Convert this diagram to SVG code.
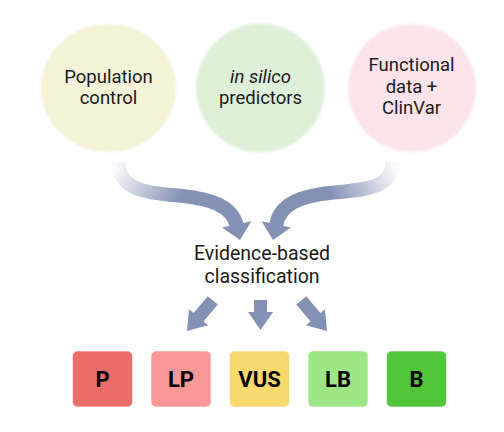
<svg xmlns="http://www.w3.org/2000/svg" width="504" height="432" viewBox="0 0 504 432">
<defs>
<style>
.t{font-family:Roboto,"Liberation Sans",sans-serif;font-size:18.5px;fill:#1a1a1a;text-anchor:middle}
.e{font-size:19.5px}
.b{font-family:Roboto,"Liberation Sans",sans-serif;font-size:22px;font-weight:bold;fill:#000;text-anchor:middle}
.arr{fill:#8391B5}
.box{stroke:#ffffff;stroke-opacity:0.6;stroke-width:1}
</style>
<linearGradient id="gl" gradientUnits="userSpaceOnUse" x1="116" y1="165" x2="182" y2="196">
<stop offset="0" stop-color="#8391B5" stop-opacity="0.04"/>
<stop offset="1" stop-color="#8391B5" stop-opacity="1"/>
</linearGradient>
<linearGradient id="gr" gradientUnits="userSpaceOnUse" x1="394" y1="165" x2="330" y2="194">
<stop offset="0" stop-color="#8391B5" stop-opacity="0.04"/>
<stop offset="1" stop-color="#8391B5" stop-opacity="1"/>
</linearGradient>
<path id="head" d="M-15,-16 L15,-16 L0,0 Z"/>
<path id="shortArr" d="M-6.5,-30 L6.5,-30 L6.5,-18 L12.5,-18 L0,0 L-12.5,-18 L-6.5,-18 Z"/>
<path id="longArr" d="M-6.5,-40 L6.5,-40 L6.5,-18 L12.5,-18 L0,0 L-12.5,-18 L-6.5,-18 Z"/>
<filter id="soft" x="-10%" y="-10%" width="120%" height="120%"><feGaussianBlur stdDeviation="0.8"/></filter>
</defs>
<rect width="504" height="432" fill="#ffffff"/>

<g id="node-population">
<ellipse cx="108.5" cy="88" rx="67.5" ry="64" fill="#F5F2D8" filter="url(#soft)"/>
<text class="t" x="108.5" y="83">Population</text>
<text class="t" x="108.5" y="104">control</text>
</g>
<g id="node-insilico">
<circle cx="260.5" cy="88" r="64.5" fill="#DFF0D8" filter="url(#soft)"/>
<text class="t" x="260.5" y="82.5"><tspan font-style="italic">in silico</tspan></text>
<text class="t" x="260.5" y="103.5">predictors</text>
</g>
<g id="node-functional">
<circle cx="412" cy="88" r="64" fill="#FCE4EA" filter="url(#soft)"/>
<text class="t" x="411.5" y="71">Functional</text>
<text class="t" x="411.5" y="92.5">data +</text>
<text class="t" x="411.5" y="114">ClinVar</text>
</g>

<g id="node-evidence">
<text class="t e" x="262" y="260">Evidence-based</text>
<text class="t e" x="262" y="282.5">classification</text>
</g>

<g id="node-P"><rect class="box" x="72.5" y="351" width="60" height="56" rx="5" fill="#EA6D6A"/><text class="b" x="102.5" y="387">P</text></g>
<g id="node-LP"><rect class="box" x="151" y="351" width="60" height="56" rx="5" fill="#F99696"/><text class="b" x="181" y="387">LP</text></g>
<g id="node-VUS"><rect class="box" x="229.5" y="351" width="60" height="56" rx="5" fill="#F7D96E"/><text class="b" x="259.5" y="387">VUS</text></g>
<g id="node-LB"><rect class="box" x="308" y="351" width="60" height="56" rx="5" fill="#9DE685"/><text class="b" x="338" y="387">LB</text></g>
<g id="node-B"><rect class="box" x="386.5" y="351" width="60" height="56" rx="5" fill="#52C63A"/><text class="b" x="416.5" y="387">B</text></g>

<g id="connectors">
<path d="M118.5,162 C118.5,186 138,192 172,195 C212,198 232,206 237,226" fill="none" stroke="url(#gl)" stroke-width="14"/>
<use href="#head" class="arr" transform="translate(240,240) rotate(-12)"/>
<path d="M392.5,162 C392.5,184 374,189 340,192 C298,195 279,205 276,226" fill="none" stroke="url(#gr)" stroke-width="14"/>
<use href="#head" class="arr" transform="translate(273,240) rotate(12)"/>
<use href="#longArr" class="arr" transform="translate(187,331) rotate(40)"/>
<use href="#shortArr" class="arr" transform="translate(260.5,330)"/>
<use href="#longArr" class="arr" transform="translate(327,331) rotate(-40)"/>
</g>
</svg>
